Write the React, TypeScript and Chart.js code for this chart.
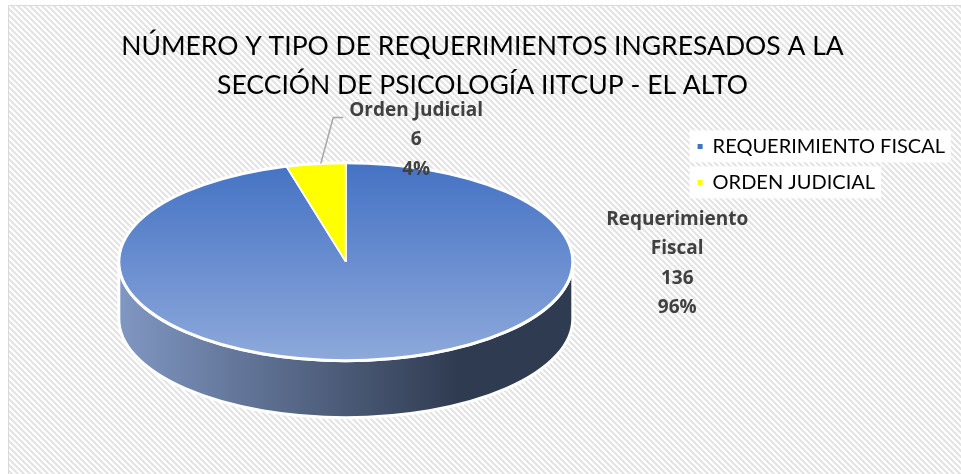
import React, { useEffect, useRef } from "react";
import { Chart, registerables } from "chart.js";

Chart.register(...registerables);

// ---- data ----
const TITLE_LINES = [
  "NÚMERO Y TIPO DE REQUERIMIENTOS INGRESADOS A LA",
  "SECCIÓN DE PSICOLOGÍA IITCUP - EL ALTO",
];
const CATEGORIES = ["REQUERIMIENTO FISCAL", "ORDEN JUDICIAL"];
const LABEL_NAMES = [["Requerimiento", "Fiscal"], ["Orden Judicial"]];
const VALUES = [136, 6];

// ---- styles ----
const LEGEND_COLORS = ["#4472C4", "#FFFF00"];
const TOP_GRAD = ["#4472C4", "#8EA9DB"];
const SIDE_GRAD = ["#8097C2", "#2F3B50"];
const PIE_RADIUS = 227;
const TILT = 0.436;
const DEPTH = 57;
const LABEL_COLOR = "#404040";
const LABEL_FONT = "bold 19px 'Open Sans'";
const LABEL_LINE = 29.5;
// label anchors relative to pie centre, in units of (radius, projected radius)
const LABEL_ANCHORS = [
  { dx: 1.46, dy: 0.02 },
  { dx: 0.31, dy: -1.23 },
];

const W = 961;
const H = 474;

function makeHatch(ctx: CanvasRenderingContext2D) {
  const c = document.createElement("canvas");
  c.width = 6;
  c.height = 6;
  const p = c.getContext("2d")!;
  p.fillStyle = "#ffffff";
  p.fillRect(0, 0, 6, 6);
  p.strokeStyle = "#e3e3e3";
  p.lineWidth = 2;
  p.beginPath();
  p.moveTo(-1, -1);
  p.lineTo(7, 7);
  p.moveTo(-7, -1);
  p.lineTo(1, 7);
  p.moveTo(5, -1);
  p.lineTo(13, 7);
  p.stroke();
  return ctx.createPattern(c, "repeat");
}

const backgroundPlugin = {
  id: "bgHatch",
  beforeDraw(chart: any) {
    const ctx = chart.ctx as CanvasRenderingContext2D;
    ctx.save();
    ctx.fillStyle = "#ffffff";
    ctx.fillRect(0, 0, chart.width, chart.height);
    const pat = makeHatch(ctx);
    if (pat) {
      ctx.fillStyle = pat;
      ctx.fillRect(8, 5, chart.width - 8, chart.height - 5);
    }
    ctx.strokeStyle = "#d9d9d9";
    ctx.lineWidth = 1;
    ctx.beginPath();
    ctx.moveTo(8.5, chart.height);
    ctx.lineTo(8.5, 5.5);
    ctx.lineTo(chart.width, 5.5);
    ctx.stroke();
    // white backing behind legend entries
    const lg = chart.legend;
    if (lg && lg.legendHitBoxes) {
      ctx.fillStyle = "#ffffff";
      for (const b of lg.legendHitBoxes) {
        ctx.fillRect(b.left - 8, b.top - 6, b.width + 14, b.height + 12);
      }
    }
    ctx.restore();
  },
};

const pie3dPlugin = {
  id: "pie3d",
  beforeDatasetsDraw(chart: any) {
    const meta = chart.getDatasetMeta(0);
    const arc = meta.data[0];
    if (!arc) return;
    const ctx = chart.ctx as CanvasRenderingContext2D;
    const cx = arc.x;
    const cy = arc.y;
    const R = arc.outerRadius;
    const ry = R * TILT;
    ctx.save();
    // side wall
    const g = ctx.createLinearGradient(cx - R, 0, cx + R, 0);
    g.addColorStop(0, SIDE_GRAD[0]);
    g.addColorStop(0.75, SIDE_GRAD[1]);
    g.addColorStop(1, SIDE_GRAD[1]);
    ctx.beginPath();
    ctx.moveTo(cx - R, cy);
    ctx.lineTo(cx - R, cy + DEPTH);
    ctx.ellipse(cx, cy + DEPTH, R, ry, 0, Math.PI, 0, true);
    ctx.lineTo(cx + R, cy);
    ctx.ellipse(cx, cy, R, ry, 0, 0, Math.PI, false);
    ctx.closePath();
    ctx.fillStyle = g;
    ctx.fill();
    ctx.strokeStyle = "#ffffff";
    ctx.lineWidth = 3;
    ctx.stroke();
    ctx.restore();
    // squash the top face
    ctx.save();
    ctx.translate(cx, cy);
    ctx.scale(1, TILT);
    ctx.translate(-cx, -cy);
  },
  afterDatasetsDraw(chart: any) {
    const ctx = chart.ctx as CanvasRenderingContext2D;
    ctx.restore();
    const meta = chart.getDatasetMeta(0);
    const arcs = meta.data;
    if (!arcs.length) return;
    const cx = arcs[0].x;
    const cy = arcs[0].y;
    const R = arcs[0].outerRadius;
    const ry = R * TILT;
    ctx.save();
    ctx.strokeStyle = "#ffffff";
    ctx.lineWidth = 3;
    ctx.beginPath();
    ctx.ellipse(cx, cy, R, ry, 0, 0, Math.PI * 2);
    ctx.stroke();

    // data labels
    const total = VALUES.reduce((a, b) => a + b, 0);
    ctx.fillStyle = LABEL_COLOR;
    ctx.font = LABEL_FONT;
    ctx.textAlign = "center";
    ctx.textBaseline = "middle";
    arcs.forEach((a: any, i: number) => {
      const lines = [
        ...LABEL_NAMES[i],
        String(VALUES[i]),
        Math.round((VALUES[i] / total) * 100) + "%",
      ];
      const anc = LABEL_ANCHORS[i];
      const lx = cx + anc.dx * R;
      const ly = cy + anc.dy * ry;
      const y0 = ly - ((lines.length - 1) * LABEL_LINE) / 2;
      if (i === 1) {
        // leader line from slice edge to label
        const mid = (a.startAngle + a.endAngle) / 2;
        const ex = cx + Math.cos(mid) * R;
        const ey = cy + Math.sin(mid) * ry;
        const w0 = ctx.measureText(lines[0]).width;
        const tx = lx - w0 / 2 - 6;
        ctx.save();
        ctx.strokeStyle = "#a6a6a6";
        ctx.lineWidth = 1.5;
        ctx.beginPath();
        ctx.moveTo(ex + 5, ey);
        ctx.lineTo(tx - 10, y0 + 7);
        ctx.lineTo(tx, y0 + 7);
        ctx.stroke();
        ctx.restore();
      }
      lines.forEach((t, j) => ctx.fillText(t, lx, y0 + j * LABEL_LINE));
    });
    ctx.restore();
  },
};

export default function App() {
  const ref = useRef<HTMLCanvasElement>(null);
  useEffect(() => {
    if (!ref.current) return;
    const chart = new Chart(ref.current, {
      type: "pie",
      data: {
        labels: CATEGORIES,
        datasets: [
          {
            data: VALUES,
            backgroundColor: (c: any) => {
              if (c.dataIndex !== 0) return LEGEND_COLORS[1];
              const ca = c.chart.chartArea;
              if (!ca) return LEGEND_COLORS[0];
              const cy = (ca.top + ca.bottom) / 2;
              const g = c.chart.ctx.createLinearGradient(0, cy - PIE_RADIUS, 0, cy + PIE_RADIUS);
              g.addColorStop(0, TOP_GRAD[0]);
              g.addColorStop(1, TOP_GRAD[1]);
              return g;
            },
            borderColor: "#ffffff",
            borderWidth: 2,
          },
        ],
      },
      options: {
        responsive: false,
        animation: false,
        radius: PIE_RADIUS,
        layout: { padding: { left: 10, right: 6, top: 8, bottom: 71 } },
        plugins: {
          title: {
            display: true,
            text: TITLE_LINES,
            color: "#000000",
            font: { family: "Lato", size: 26.5, weight: "normal", lineHeight: 1.46 },
            padding: { top: 19, bottom: 16 },
          },
          legend: {
            display: true,
            position: "right",
            align: "start",
            fullSize: false,
            labels: {
              boxWidth: 5,
              boxHeight: 5,
              padding: 16,
              color: "#000000",
              font: { family: "Lato", size: 20 },
              generateLabels: () =>
                CATEGORIES.map((t, i) => ({
                  text: t,
                  fillStyle: LEGEND_COLORS[i],
                  strokeStyle: LEGEND_COLORS[i],
                  lineWidth: 0,
                  hidden: false,
                  index: i,
                  datasetIndex: 0,
                })),
            },
          },
          tooltip: { enabled: false },
        },
      } as any,
      plugins: [backgroundPlugin, pie3dPlugin],
    });
    return () => chart.destroy();
  }, []);
  return (
    <div style={{ position: "absolute", left: 0, top: 0, width: W, height: H }}>
      <canvas ref={ref} width={W} height={H} />
    </div>
  );
}
